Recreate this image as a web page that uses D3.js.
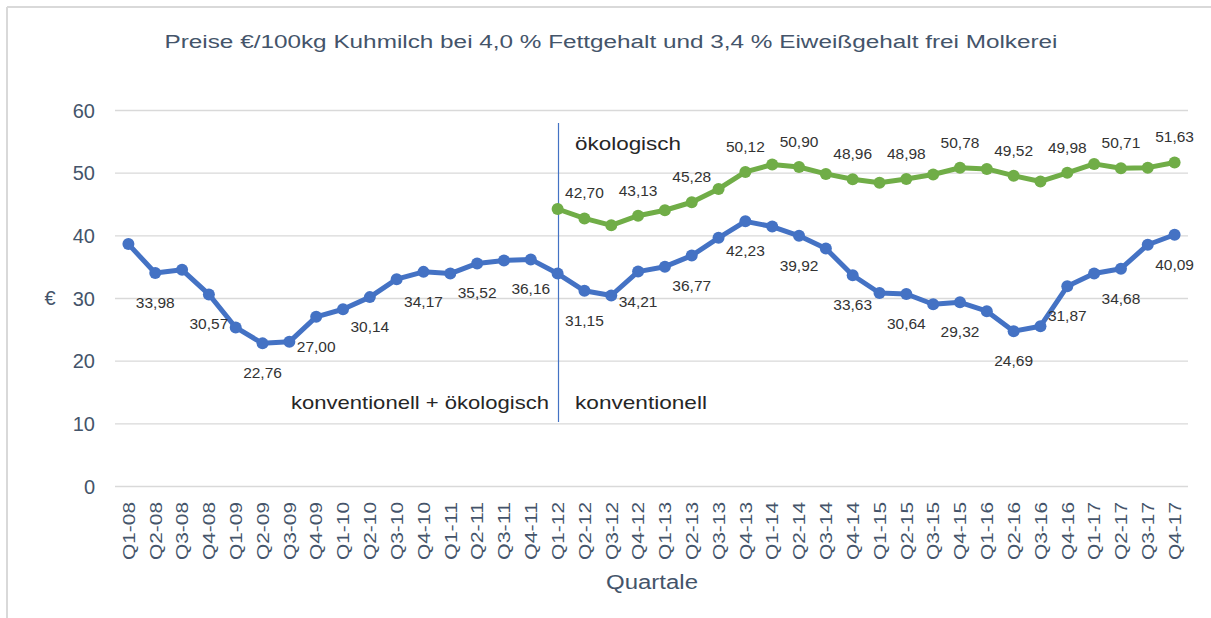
<!DOCTYPE html>
<html>
<head>
<meta charset="utf-8">
<script src="https://cdn.jsdelivr.net/npm/d3@7"></script>
<style>
html,body{margin:0;padding:0;background:#fff;}
svg{display:block;font-family:"Liberation Sans",Arial,sans-serif;}
</style>
</head>
<body>
<svg id="chart" width="1211" height="618"></svg>
<script>
const categories = ["Q1-08","Q2-08","Q3-08","Q4-08","Q1-09","Q2-09","Q3-09","Q4-09",
  "Q1-10","Q2-10","Q3-10","Q4-10","Q1-11","Q2-11","Q3-11","Q4-11",
  "Q1-12","Q2-12","Q3-12","Q4-12","Q1-13","Q2-13","Q3-13","Q4-13",
  "Q1-14","Q2-14","Q3-14","Q4-14","Q1-15","Q2-15","Q3-15","Q4-15",
  "Q1-16","Q2-16","Q3-16","Q4-16","Q1-17","Q2-17","Q3-17","Q4-17"];

const konventionell = [38.6,33.98,34.5,30.57,25.3,22.76,23.0,27.00,
  28.2,30.14,33.0,34.17,33.9,35.52,36.0,36.16,
  33.9,31.15,30.4,34.21,35.0,36.77,39.6,42.23,
  41.4,39.92,37.9,33.63,30.8,30.64,29.0,29.32,
  27.9,24.69,25.5,31.87,33.9,34.68,38.5,40.09];

const oekologisch = [null,null,null,null,null,null,null,null,
  null,null,null,null,null,null,null,null,
  44.2,42.70,41.6,43.13,44.0,45.28,47.4,50.12,
  51.3,50.90,49.8,48.96,48.4,48.98,49.7,50.78,
  50.6,49.52,48.6,49.98,51.4,50.71,50.8,51.63];

const yTicks = [0,10,20,30,40,50,60];

const titleText = "Preise €/100kg Kuhmilch bei 4,0 % Fettgehalt und 3,4 % Eiweißgehalt frei Molkerei";

const svg = d3.select("#chart");
const slate = "#44546a";
const blue = "#4472c4";
const green = "#70ad47";

// frame
svg.append("line").attr("x1",7).attr("x2",1211).attr("y1",7).attr("y2",7).attr("stroke","#d9d9d9").attr("stroke-width",2);
svg.append("line").attr("x1",7).attr("x2",7).attr("y1",7).attr("y2",618).attr("stroke","#d9d9d9").attr("stroke-width",2);

const x = d3.scalePoint().domain(categories).range([115,1188]).padding(0.5);
const y = d3.scaleLinear().domain([0,60]).range([486,110]);

function fit(sel, w){ sel.attr("textLength", w).attr("lengthAdjust","spacingAndGlyphs"); return sel; }

// title
fit(svg.append("text").attr("x",611).attr("y",48).attr("text-anchor","middle")
  .attr("font-size",18).attr("fill",slate).text(titleText), 893);

// gridlines
svg.append("g").selectAll("line").data(yTicks).join("line")
  .attr("x1",115).attr("x2",1188)
  .attr("y1",d=>y(d)+0.5).attr("y2",d=>y(d)+0.5)
  .attr("stroke","#d9d9d9").attr("stroke-width",1.3);

// y axis labels
const yAxis = d3.axisLeft(y).tickValues(yTicks).tickSize(0).tickPadding(0).tickFormat(d3.format("d"));
const gy = svg.append("g").attr("transform","translate(95,0)").call(yAxis);
gy.select(".domain").remove();
gy.selectAll("text").attr("font-size",20).attr("fill",slate).attr("font-family","Liberation Sans, Arial, sans-serif").attr("dy","0.35em");

svg.append("text").attr("x",50).attr("y",y(30)).attr("dy","0.35em").attr("text-anchor","middle")
  .attr("font-size",20).attr("fill",slate).text("€");

// x axis labels
const xAxis = d3.axisBottom(x).tickSize(0).tickPadding(0);
const gx = svg.append("g").attr("transform","translate(0,502)").call(xAxis);
gx.select(".domain").remove();
gx.selectAll("text")
  .attr("transform","rotate(-90)")
  .attr("x",0).attr("y",0).attr("dy","0.36em")
  .attr("text-anchor","end")
  .attr("font-size",16).attr("fill",slate).attr("font-family","Liberation Sans, Arial, sans-serif")
  .attr("textLength",58).attr("lengthAdjust","spacingAndGlyphs");

fit(svg.append("text").attr("x",652).attr("y",589).attr("text-anchor","middle")
  .attr("font-size",20).attr("fill",slate).text("Quartale"), 92);

// separator line
const sepX = Math.round(x("Q1-12")) + 0.5;
svg.append("line").attr("x1",sepX).attr("x2",sepX)
  .attr("y1",123).attr("y2",422).attr("stroke",blue).attr("stroke-width",1.2);

// annotations
fit(svg.append("text").attr("x",575).attr("y",y(54.7)).attr("dy","0.35em")
  .attr("font-size",19).attr("fill","#262626").text("ökologisch"), 106);
fit(svg.append("text").attr("x",549).attr("y",y(13.4)).attr("dy","0.35em").attr("text-anchor","end")
  .attr("font-size",19).attr("fill","#262626").text("konventionell + ökologisch"), 258);
fit(svg.append("text").attr("x",575).attr("y",y(13.4)).attr("dy","0.35em")
  .attr("font-size",19).attr("fill","#262626").text("konventionell"), 132);

const fmt = v => d3.format(".2f")(v).replace(".",",");

function drawSeries(values, color, labelDy){
  const pts = categories.map((c,i)=>({c, v: values[i], i})).filter(d=>d.v!=null);
  const line = d3.line().x(d=>x(d.c)).y(d=>y(d.v));
  svg.append("path").datum(pts).attr("d",line)
    .attr("fill","none").attr("stroke",color).attr("stroke-width",5)
    .attr("stroke-linejoin","round").attr("stroke-linecap","round");
  svg.append("g").selectAll("circle").data(pts).join("circle")
    .attr("cx",d=>x(d.c)).attr("cy",d=>y(d.v)).attr("r",6).attr("fill",color);
  svg.append("g").selectAll("text").data(pts.filter(d=>d.i%2===1)).join("text")
    .attr("x",d=>x(d.c)).attr("y",d=>y(d.v)+labelDy)
    .attr("text-anchor","middle").attr("font-size",15.5).attr("fill","#333")
    .text(d=>fmt(d.v));
}

drawSeries(konventionell, blue, 35);
drawSeries(oekologisch, green, -20);
</script>
</body>
</html>
